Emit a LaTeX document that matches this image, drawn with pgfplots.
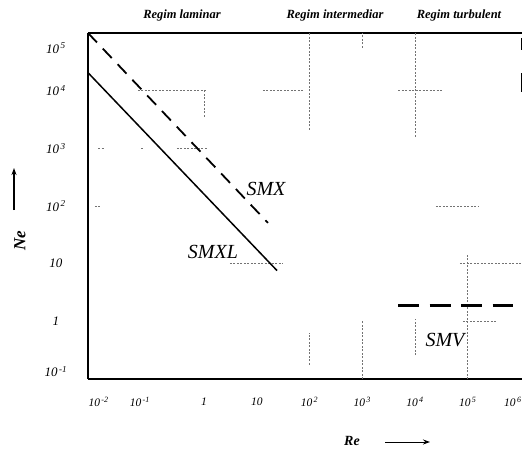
\documentclass[border=0pt]{standalone}
\usepackage{fontspec}
\setmainfont{Liberation Serif}
\usepackage{pgfplots}
\pgfplotsset{compat=1.18}
\usetikzlibrary{arrows.meta}
\begin{document}
\begin{tikzpicture}
\begin{axis}[
  at={(0pt,0pt)}, anchor=south west,
  scale only axis, width=434pt, height=346pt,
  xmode=log, ymode=log,
  xmin=0.00631, xmax=1.07e6, ymin=0.1, ymax=1e5,
  axis x line*=box, axis y line*=left,
  axis line style={line width=2.6pt},
  major tick length=0pt, minor tick length=0pt,
  xtick={0.01,0.0608,1,10,100,1000,10000,100000,720000},
  xticklabels={10\textsuperscript{\,-2},10\textsuperscript{\,-1},1,10,10\textsuperscript{\,2},10\textsuperscript{\,3},10\textsuperscript{\,4},10\textsuperscript{\,5},10\textsuperscript{\,6}},
  ytick={0.135,1,10,100,1000,10000,55000},
  yticklabels={10\textsuperscript{\,-1},1,10,10\textsuperscript{\,2},10\textsuperscript{\,3},10\textsuperscript{\,4},10\textsuperscript{\,5}},
  xticklabel style={font=\itshape\fontsize{11.5}{13}\selectfont, anchor=center, yshift=-23pt},
  yticklabel style={font=\itshape\fontsize{13}{15}\selectfont, anchor=center, xshift=-32pt},
  grd/.style={black!55, line width=0.9pt, dash pattern=on 2pt off 1.5pt, forget plot},
]
% grid fragments (faded dotted grid of the scan)
\addplot[grd] coordinates {(0.0557,1e4) (1.14,1e4)};
\addplot[grd] coordinates {(13.1,1e4) (75,1e4)};
\addplot[grd] coordinates {(4790,1e4) (34000,1e4)};
\addplot[grd] coordinates {(1,3550) (1,1e4)};
\addplot[grd] coordinates {(0.0098,1e3) (0.0132,1e3)};
\addplot[grd] coordinates {(0.064,1e3) (0.069,1e3)};
\addplot[grd] coordinates {(0.306,1e3) (1.19,1e3)};
\addplot[grd] coordinates {(0.0085,100) (0.011,100)};
\addplot[grd] coordinates {(100,2100) (100,1e5)};
\addplot[grd] coordinates {(100,0.178) (100,0.64)};
\addplot[grd] coordinates {(1000,55000) (1000,1e5)};
\addplot[grd] coordinates {(1000,0.1) (1000,1.0)};
\addplot[grd] coordinates {(1e4,1600) (1e4,1e5)};
\addplot[grd] coordinates {(1e4,0.26) (1e4,1.1)};
\addplot[grd] coordinates {(25000,100) (160000,100)};
\addplot[grd] coordinates {(1e5,0.1) (1e5,14.3)};
\addplot[grd] coordinates {(71000,10) (1.07e6,10)};
\addplot[grd] coordinates {(81000,1) (3.6e5,1)};
\addplot[grd] coordinates {(3.1,10) (31,10)};
% remnants of the right frame
\addplot[black, line width=1.6pt, forget plot] coordinates {(1.07e6,51000) (1.07e6,83000)};
\addplot[black, line width=1.6pt, forget plot] coordinates {(1.07e6,9600) (1.07e6,20600)};
% SMX (dashed)
\addplot[black, line width=1.8pt, dash pattern=on 13pt off 8.5pt] coordinates {(0.00631,1e5) (16.3,51)};
% SMXL (solid)
\addplot[black, line width=1.5pt] coordinates {(0.00631,2.05e4) (24.2,7.6)};
% SMV (dashed horizontal)
\addplot[black, line width=3pt, dash pattern=on 21pt off 10.5pt] coordinates {(4800,1.86) (7.2e5,1.86)};
\end{axis}
% annotations
\node[font=\itshape\fontsize{20}{22}\selectfont] at (178pt,190pt) {SMX};
\node[font=\itshape\fontsize{20}{22}\selectfont] at (125pt,127pt) {SMXL};
\node[font=\itshape\fontsize{20}{22}\selectfont] at (357pt,39pt) {SMV};
\node[font=\bfseries\itshape\fontsize{12.5}{14}\selectfont] at (94pt,364pt) {Regim laminar};
\node[font=\bfseries\itshape\fontsize{12.5}{14}\selectfont] at (247pt,364pt) {Regim intermediar};
\node[font=\bfseries\itshape\fontsize{12.5}{14}\selectfont] at (371pt,364pt) {Regim turbulent};
\node[font=\bfseries\itshape\fontsize{14}{16}\selectfont] at (264pt,-62pt) {Re};
\draw[line width=1pt, -{Stealth[length=7pt,width=5pt]}] (297pt,-63pt) -- (342pt,-63pt);
\node[font=\bfseries\itshape\fontsize{17}{19}\selectfont, rotate=90] at (-68pt,138pt) {Ne};
\draw[line width=1.2pt, -{Stealth[length=7pt,width=5pt]}] (-74pt,169pt) -- (-74pt,211pt);
\pgfresetboundingbox
\path[use as bounding box] (-88pt,-72pt) rectangle (435pt,379pt);
\end{tikzpicture}
\end{document}
